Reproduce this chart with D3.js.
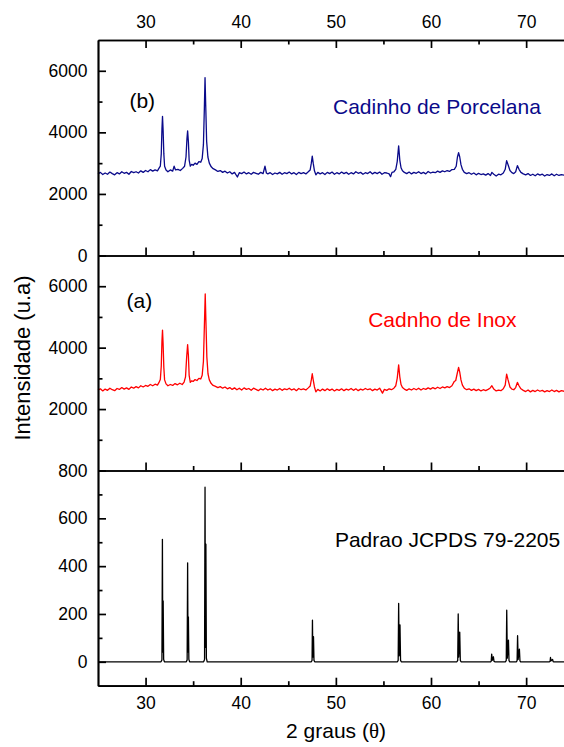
<!DOCTYPE html>
<meta charset="utf-8">
<style>
body { margin: 0; background: #fff; }
svg { display: block; font-family: "Liberation Sans", Arial, sans-serif; }
.axis path, .axis line { stroke: #000; stroke-width: 1.7px; }
.axis text { font-size: 17.5px; fill: #000; font-family: "Liberation Sans", Arial, sans-serif; }
.trace { fill: none; stroke-width: 1.3px; stroke-linejoin: round; }
.note { font-size: 21px; }
</style>
<svg width="564" height="747"></svg>
<script src="https://cdn.jsdelivr.net/npm/d3@7"></script>
<script>

// (b) Cadinho de Porcelana  [2theta, intensidade]
var porcelana = [
 [25.0,2650],[25.25,2700],[25.5,2630],[25.75,2680],[26.0,2640],[26.25,2710],[26.5,2660],[26.75,2620],
 [27.0,2690],[27.25,2650],[27.5,2720],[27.75,2670],[28.0,2700],[28.25,2640],[28.5,2730],[28.75,2690],
 [29.0,2720],[29.25,2680],[29.5,2750],[29.75,2700],[30.0,2760],[30.25,2720],[30.5,2790],[30.75,2740],
 [31.0,2780],[31.25,2750],[31.4,2830],[31.55,2900],[31.65,3300],[31.72,4100],[31.78,4520],[31.84,4100],
 [31.92,3300],[32.0,2900],[32.15,2780],[32.35,2720],[32.6,2780],[32.85,2740],[33.0,2900],[33.15,2780],
 [33.4,2800],[33.65,2760],[33.9,2830],[34.1,2900],[34.25,3200],[34.35,3800],[34.42,4050],[34.5,3700],
 [34.58,3100],[34.7,2900],[34.85,2960],[35.0,2930],[35.2,3000],[35.4,2960],[35.6,3050],[35.8,3030],
 [35.95,3150],[36.08,3600],[36.18,4800],[36.25,5780],[36.32,4900],[36.42,3700],[36.55,3200],[36.7,3000],
 [36.9,2880],[37.1,2820],[37.35,2780],[37.6,2730],[37.85,2760],[38.1,2700],[38.35,2740],[38.6,2680],
 [38.85,2720],[39.1,2650],[39.35,2700],[39.65,2550],[39.85,2690],[40.1,2660],[40.35,2710],[40.6,2650],
 [40.85,2690],[41.1,2640],[41.35,2700],[41.6,2670],[41.85,2640],[42.1,2700],[42.35,2660],[42.55,2900],
 [42.7,2680],[42.85,2650],[43.1,2690],[43.35,2630],[43.6,2680],[43.85,2650],[44.1,2700],[44.35,2640],
 [44.6,2690],[44.85,2660],[45.1,2710],[45.35,2650],[45.6,2690],[45.85,2630],[46.1,2700],[46.35,2660],
 [46.6,2690],[46.85,2650],[47.1,2720],[47.3,2780],[47.42,3000],[47.52,3230],[47.62,3000],[47.75,2750],
 [47.9,2620],[48.1,2700],[48.35,2650],[48.6,2690],[48.85,2630],[49.1,2700],[49.35,2660],[49.6,2710],
 [49.85,2640],[50.1,2690],[50.35,2650],[50.6,2710],[50.85,2660],[51.1,2700],[51.35,2640],[51.6,2690],
 [51.85,2650],[52.1,2720],[52.35,2670],[52.6,2700],[52.85,2640],[53.1,2690],[53.35,2660],[53.6,2720],
 [53.85,2650],[54.1,2700],[54.35,2660],[54.6,2710],[54.85,2640],[55.1,2690],[55.35,2680],[55.6,2650],
 [55.75,2560],[55.9,2700],[56.1,2720],[56.3,2800],[56.45,3050],[56.6,3560],[56.72,3100],[56.85,2850],
 [57.0,2750],[57.2,2700],[57.45,2660],[57.7,2710],[57.95,2650],[58.2,2700],[58.45,2670],[58.7,2720],
 [58.95,2660],[59.2,2700],[59.45,2650],[59.7,2730],[59.95,2680],[60.2,2710],[60.45,2690],[60.7,2740],
 [60.95,2700],[61.2,2750],[61.45,2720],[61.7,2760],[61.95,2730],[62.2,2790],[62.45,2800],[62.65,2900],
 [62.78,3200],[62.9,3340],[63.02,3200],[63.15,2950],[63.3,2800],[63.5,2700],[63.75,2660],[64.0,2690],
 [64.25,2640],[64.5,2680],[64.75,2620],[65.0,2670],[65.25,2630],[65.5,2650],[65.75,2610],[66.0,2660],
 [66.25,2600],[66.4,2700],[66.6,2640],[66.85,2580],[67.1,2640],[67.35,2620],[67.6,2680],[67.8,2800],
 [67.95,3080],[68.1,2950],[68.3,2760],[68.5,2690],[68.7,2660],[68.9,2720],[69.08,2920],[69.25,2800],
 [69.45,2700],[69.7,2650],[69.95,2620],[70.2,2660],[70.45,2600],[70.7,2640],[70.95,2590],[71.2,2650],
 [71.45,2610],[71.7,2640],[71.95,2580],[72.2,2630],[72.45,2600],[72.7,2650],[72.95,2590],[73.2,2640],
 [73.45,2600],[73.7,2630],[74.0,2610]
];

// (a) Cadnho de Inox
var inox = [
 [25.0,2620],[25.25,2660],[25.5,2590],[25.75,2650],[26.0,2610],[26.25,2680],[26.5,2630],[26.75,2600],
 [27.0,2670],[27.25,2640],[27.5,2700],[27.75,2650],[28.0,2690],[28.25,2640],[28.5,2720],[28.75,2680],
 [29.0,2730],[29.25,2690],[29.5,2760],[29.75,2720],[30.0,2770],[30.25,2740],[30.5,2800],[30.75,2760],
 [31.0,2810],[31.25,2780],[31.4,2860],[31.55,2960],[31.65,3400],[31.72,4200],[31.78,4570],[31.84,4150],
 [31.92,3350],[32.0,2950],[32.15,2820],[32.35,2760],[32.6,2800],[32.85,2770],[33.1,2830],[33.35,2790],
 [33.6,2840],[33.85,2800],[34.05,2880],[34.2,3050],[34.32,3700],[34.42,4100],[34.5,3750],[34.58,3100],
 [34.7,2870],[34.85,2920],[35.0,2900],[35.2,2960],[35.4,2930],[35.6,3000],[35.8,2980],[35.95,3100],
 [36.08,3550],[36.18,4700],[36.27,5750],[36.34,4900],[36.44,3700],[36.56,3150],[36.7,2950],[36.9,2830],
 [37.1,2770],[37.35,2740],[37.6,2700],[37.85,2730],[38.1,2680],[38.35,2720],[38.6,2660],[38.85,2700],
 [39.1,2640],[39.35,2690],[39.6,2630],[39.85,2680],[40.1,2620],[40.35,2690],[40.6,2640],[40.85,2670],
 [41.1,2610],[41.35,2680],[41.6,2640],[41.85,2600],[42.1,2660],[42.35,2620],[42.6,2680],[42.85,2620],
 [43.1,2660],[43.35,2600],[43.6,2650],[43.85,2620],[44.1,2670],[44.35,2610],[44.6,2660],[44.85,2630],
 [45.1,2680],[45.35,2620],[45.6,2660],[45.85,2600],[46.1,2670],[46.35,2630],[46.6,2660],[46.85,2620],
 [47.1,2690],[47.3,2750],[47.42,2950],[47.52,3150],[47.62,2950],[47.75,2720],[47.9,2560],[48.1,2640],
 [48.35,2590],[48.6,2650],[48.85,2600],[49.1,2660],[49.35,2610],[49.6,2650],[49.85,2590],[50.1,2640],
 [50.35,2610],[50.6,2660],[50.85,2600],[51.1,2650],[51.35,2620],[51.6,2670],[51.85,2610],[52.1,2660],
 [52.35,2600],[52.6,2650],[52.85,2620],[53.1,2670],[53.35,2630],[53.6,2660],[53.85,2600],[54.1,2650],
 [54.35,2620],[54.6,2680],[54.9,2520],[55.1,2640],[55.35,2610],[55.6,2660],[55.85,2630],[56.1,2680],
 [56.3,2760],[56.45,3000],[56.6,3440],[56.72,3050],[56.85,2800],[57.0,2700],[57.2,2650],[57.45,2610],
 [57.7,2660],[57.95,2620],[58.2,2670],[58.45,2630],[58.7,2680],[58.95,2620],[59.2,2670],[59.45,2640],
 [59.7,2690],[59.95,2650],[60.2,2700],[60.45,2660],[60.7,2710],[60.95,2670],[61.2,2720],[61.45,2690],
 [61.7,2730],[61.95,2700],[62.2,2760],[62.45,2900],[62.6,2930],[62.75,3150],[62.9,3360],[63.02,3200],
 [63.15,2950],[63.3,2780],[63.5,2680],[63.75,2630],[64.0,2660],[64.25,2610],[64.5,2650],[64.75,2600],
 [65.0,2640],[65.25,2590],[65.5,2630],[65.75,2600],[66.0,2640],[66.2,2680],[66.4,2760],[66.6,2650],
 [66.85,2590],[67.1,2620],[67.35,2600],[67.6,2660],[67.8,2780],[67.95,3140],[68.1,2950],[68.3,2720],
 [68.5,2650],[68.7,2630],[68.9,2700],[69.08,2870],[69.25,2760],[69.45,2660],[69.7,2610],[69.95,2570],
 [70.2,2620],[70.45,2560],[70.7,2610],[70.95,2570],[71.2,2620],[71.45,2580],[71.7,2610],[71.95,2560],
 [72.2,2600],[72.45,2570],[72.7,2620],[72.95,2570],[73.2,2610],[73.45,2560],[73.7,2600],[74.0,2580]
];

// Padrao JCPDS 79-2205 (Kalpha1 + Kalpha2)
var padrao = [
 [25,0],[31.62,0],[31.72,8],[31.77,512],[31.81,40],[31.85,255],[31.9,10],[31.98,0],
 [34.28,0],[34.37,8],[34.42,414],[34.46,40],[34.5,188],[34.55,10],[34.63,0],
 [36.1,0],[36.2,10],[36.25,730],[36.29,60],[36.34,492],[36.39,15],[36.48,0],
 [47.42,0],[47.5,6],[47.54,174],[47.58,20],[47.65,105],[47.7,6],[47.78,0],
 [56.47,0],[56.55,6],[56.6,244],[56.65,25],[56.74,154],[56.8,6],[56.88,0],
 [62.72,0],[62.81,6],[62.86,200],[62.91,20],[63.02,124],[63.08,6],[63.16,0],
 [66.27,0],[66.33,3],[66.38,32],[66.44,6],[66.56,21],[66.62,2],[66.7,0],
 [67.83,0],[67.91,6],[67.96,216],[68.02,15],[68.14,91],[68.2,5],[68.28,0],
 [68.98,0],[69.05,5],[69.1,109],[69.16,10],[69.29,53],[69.35,4],[69.42,0],
 [72.45,0],[72.52,2],[72.56,18],[72.62,4],[72.78,10],[72.84,1],[72.92,0],
 [74,0]
];

var xMajor = [30, 40, 50, 60, 70],
    xMinor = [35, 45, 55, 65];
var yMajorTop = [0, 2000, 4000, 6000],
    yMajorMid = [2000, 4000, 6000],
    yMinorCounts = [1000, 3000, 5000],
    yMajorRef = [0, 200, 400, 600, 800],
    yMinorRef = [100, 300, 500, 700];

var svg = d3.select("svg");

var x = d3.scaleLinear().domain([25, 74]).range([98, 564.2]);

var panels = [
  {data: porcelana, color: "#0a0a8a", domain: [0, 7000], top: 40, bottom: 255.5, major: yMajorTop, minor: yMinorCounts},
  {data: inox, color: "#ff0000", domain: [0, 7000], top: 255.5, bottom: 470.5, major: yMajorMid, minor: yMinorCounts},
  {data: padrao, color: "#000", domain: [-100, 800], top: 470.5, bottom: 685.7, major: yMajorRef, minor: yMinorRef}
];

panels.forEach(function(p, i) {
  p.y = d3.scaleLinear().domain(p.domain).range([p.bottom, p.top]);

  var line = d3.line()
      .x(function(d) { return x(d[0]); })
      .y(function(d) { return p.y(d[1]); });

  svg.append("path")
      .datum(p.data)
      .attr("class", "trace")
      .attr("stroke", p.color)
      .attr("stroke-width", i == 2 ? 1.1 : 1.3)
      .attr("d", line);

  // left axis, ticks inward
  svg.append("g")
      .attr("class", "axis")
      .attr("transform", "translate(98,0)")
      .call(d3.axisLeft(p.y).tickValues(p.major).tickSize(-8).tickSizeOuter(0).tickPadding(10.5)
        .tickFormat(d3.format("d")));
  svg.append("g")
      .attr("class", "axis")
      .attr("transform", "translate(98,0)")
      .call(d3.axisLeft(p.y).tickValues(p.minor).tickSize(-4.5).tickSizeOuter(0).tickFormat(""));

  // bottom edge of each panel, ticks point up into the panel
  var showLabels = (i == 2);
  svg.append("g")
      .attr("class", "axis")
      .attr("transform", "translate(0," + p.bottom + ")")
      .call(d3.axisBottom(x).tickValues(xMajor).tickSize(-8).tickSizeOuter(0).tickPadding(11)
        .tickFormat(showLabels ? d3.format("d") : ""));
  svg.append("g")
      .attr("class", "axis")
      .attr("transform", "translate(0," + p.bottom + ")")
      .call(d3.axisBottom(x).tickValues(xMinor).tickSize(-4.5).tickSizeOuter(0).tickFormat(""));
});

// top axis
svg.append("g")
    .attr("class", "axis")
    .attr("transform", "translate(0,40)")
    .call(d3.axisTop(x).tickValues(xMajor).tickSize(-8).tickSizeOuter(0).tickPadding(11.7)
      .tickFormat(d3.format("d")));
svg.append("g")
    .attr("class", "axis")
    .attr("transform", "translate(0,40)")
    .call(d3.axisTop(x).tickValues(xMinor).tickSize(-4.5).tickSizeOuter(0).tickFormat(""));

// annotations
var pTop = panels[0], pMid = panels[1];
svg.append("text").attr("class", "note").attr("x", x(28.3)).attr("y", 107.5).text("(b)");
svg.append("text").attr("class", "note").attr("x", x(49.7)).attr("y", 114).attr("fill", pTop.color).text("Cadinho de Porcelana");
svg.append("text").attr("class", "note").attr("x", x(28.0)).attr("y", 307.5).text("(a)");
svg.append("text").attr("class", "note").attr("x", x(53.4)).attr("y", 326.5).attr("fill", pMid.color).text("Cadnho de Inox");
svg.append("text").attr("class", "note").attr("x", x(49.9)).attr("y", 546.5).text("Padrao JCPDS 79-2205");

// axis titles
svg.append("text")
    .attr("class", "note")
    .attr("transform", "translate(30,358) rotate(-90)")
    .attr("text-anchor", "middle")
    .style("font-size", "22px")
    .text("Intensidade (u.a)");

var xt = svg.append("text")
    .attr("class", "note")
    .attr("x", 336)
    .attr("y", 738)
    .attr("text-anchor", "middle");
xt.append("tspan").text("2 graus (");
xt.append("tspan").style("font-family", "'Liberation Serif', 'Times New Roman', serif").text("\u03b8");
xt.append("tspan").text(")");

</script>
